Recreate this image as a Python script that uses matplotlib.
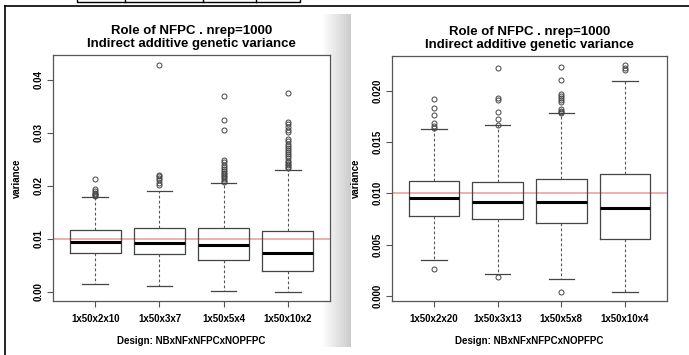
import numpy as np
import matplotlib
matplotlib.use("Agg")
import matplotlib.pyplot as plt
from matplotlib.lines import Line2D
from matplotlib.patches import Rectangle

plt.rcParams['font.family'] = ['Liberation Sans', 'DejaVu Sans']

# ---- data ----
title = "Role of NFPC . nrep=1000\nIndirect additive genetic variance"
xlabel = "Design: NBxNFxNFPCxNOPFPC"

left_labels = ["1x50x2x10", "1x50x3x7", "1x50x5x4", "1x50x10x2"]
left_med = [0.0094, 0.0093, 0.0088, 0.0073]
left_q1 = [0.0073, 0.0071, 0.0061, 0.0040]
left_q3 = [0.0116, 0.0121, 0.0120, 0.0115]
left_lo = [0.0016, 0.0011, 0.0002, 0.0000]
left_hi = [0.0179, 0.0191, 0.0206, 0.0231]
left_out = [
    [0.0213, 0.0194, 0.0190, 0.0187, 0.0185, 0.0183, 0.0181],
    [0.0429, 0.0221, 0.0218, 0.0215, 0.0212, 0.0206, 0.0201],
    [0.0369, 0.0325, 0.0306, 0.0249, 0.0245, 0.0240, 0.0236, 0.0232, 0.0228,
     0.0225, 0.0222, 0.0219, 0.0216, 0.0213, 0.0210, 0.0208],
    [0.0375, 0.0321, 0.0316, 0.0311, 0.0306, 0.0302, 0.0288, 0.0284, 0.0280,
     0.0276, 0.0272, 0.0268, 0.0264, 0.0260, 0.0256, 0.0252, 0.0248, 0.0245,
     0.0242, 0.0239, 0.0236, 0.0233],
]
left_yticks = [0.00, 0.01, 0.02, 0.03, 0.04]
left_yticklabels = ["0.00", "0.01", "0.02", "0.03", "0.04"]

right_labels = ["1x50x2x20", "1x50x3x13", "1x50x5x8", "1x50x10x4"]
right_med = [0.0095, 0.0092, 0.00915, 0.00854]
right_q1 = [0.0078, 0.0075, 0.0071, 0.0055]
right_q3 = [0.0112, 0.0111, 0.0114, 0.0119]
right_lo = [0.0035, 0.0021, 0.0016, 0.0004]
right_hi = [0.0163, 0.0167, 0.0178, 0.0210]
right_out = [
    [0.0026, 0.0192, 0.0183, 0.0176, 0.0169, 0.0166, 0.0164],
    [0.0018, 0.0222, 0.0193, 0.0191, 0.0179, 0.0173, 0.0167],
    [0.0004, 0.0223, 0.0211, 0.0197, 0.0195, 0.0193, 0.0191, 0.0189,
     0.0182, 0.0180, 0.0179, 0.0178],
    [0.0225, 0.0222, 0.0220],
]
right_yticks = [0.000, 0.005, 0.010, 0.015, 0.020]
right_yticklabels = ["0.000", "0.005", "0.010", "0.015", "0.020"]

ref_value = 0.01

W, H = 689, 355
fig = plt.figure(figsize=(W / 100, H / 100), dpi=100)


def px_axes(x0, y0, x1, y1, **kw):
    return fig.add_axes([x0 / W, 1 - y1 / H, (x1 - x0) / W, (y1 - y0) / H], **kw)


# shadow strip between the two screenshots (drawn first so labels sit on top)
axG = px_axes(323, 14, 351, 347)
grad = np.linspace(0.99, 0.80, 64)[None, :]
axG.imshow(grad, cmap='gray', vmin=0, vmax=1, aspect='auto')
axG.set_axis_off()


def draw_panel(ax, labels, med, q1, q3, lo, hi, out, yticks, yticklabels, ylim):
    stats = []
    for i in range(len(labels)):
        stats.append(dict(med=med[i], q1=q1[i], q3=q3[i], whislo=lo[i],
                          whishi=hi[i], fliers=out[i], label=labels[i]))
    ax.axhline(ref_value, color='#e99a9a', lw=1.1, zorder=1)
    ax.bxp(stats, positions=[1, 2, 3, 4], widths=0.8,
           boxprops=dict(color='#444444', lw=0.9),
           medianprops=dict(color='black', lw=2.2),
           whiskerprops=dict(color='#555555', lw=0.8, linestyle=(0, (2.5, 2))),
           capprops=dict(color='#444444', lw=0.9),
           capwidths=0.4,
           flierprops=dict(marker='o', markerfacecolor='none',
                           markeredgecolor='#444444', markersize=3.6,
                           markeredgewidth=0.7))
    ax.set_xlim(0.34, 4.66)
    ax.set_ylim(*ylim)
    ax.set_yticks(yticks)
    ax.set_yticklabels(yticklabels, rotation=90, va='center',
                       fontsize=7, fontweight='bold')
    ax.set_xticklabels(labels, fontsize=7, fontweight='bold')
    for s in ax.spines.values():
        s.set_color('#555555')
        s.set_linewidth(0.9)
    ax.tick_params(axis='x', length=4, width=0.8, color='#555555', pad=5)
    ax.tick_params(axis='y', length=4, width=0.8, color='#555555', pad=3)
    ax.set_xlabel(xlabel, fontsize=7, fontweight='bold', labelpad=9)
    ax.set_ylabel("variance", fontsize=7, fontweight='bold', labelpad=8)
    ax.set_title(title, fontsize=9.5, fontweight='bold', pad=6, linespacing=1.05)


axL = px_axes(53, 55, 330, 301)
draw_panel(axL, left_labels, left_med, left_q1, left_q3, left_lo, left_hi,
           left_out, left_yticks, left_yticklabels, (-0.0017, 0.0447))

axR = px_axes(392, 56, 667, 301)
draw_panel(axR, right_labels, right_med, right_q1, right_q3, right_lo, right_hi,
           right_out, right_yticks, right_yticklabels, (-0.0005, 0.0234))

# outer frame and bit of a table at the top
fig.add_artist(Line2D([5 / W, 1], [1 - 6 / H, 1 - 6 / H], color='black', lw=1.2))
fig.add_artist(Line2D([5 / W, 5 / W], [0, 1 - 6 / H], color='black', lw=1.2))
fig.add_artist(Rectangle((77 / W, 1 - 2 / H), 223 / W, 4 / H, fill=False,
                         edgecolor='black', lw=1.0))
for xv in [125, 203, 256]:
    fig.add_artist(Line2D([xv / W, xv / W], [1 - 2 / H, 1], color='black', lw=1.0))

fig.savefig("out.png", dpi=100)
